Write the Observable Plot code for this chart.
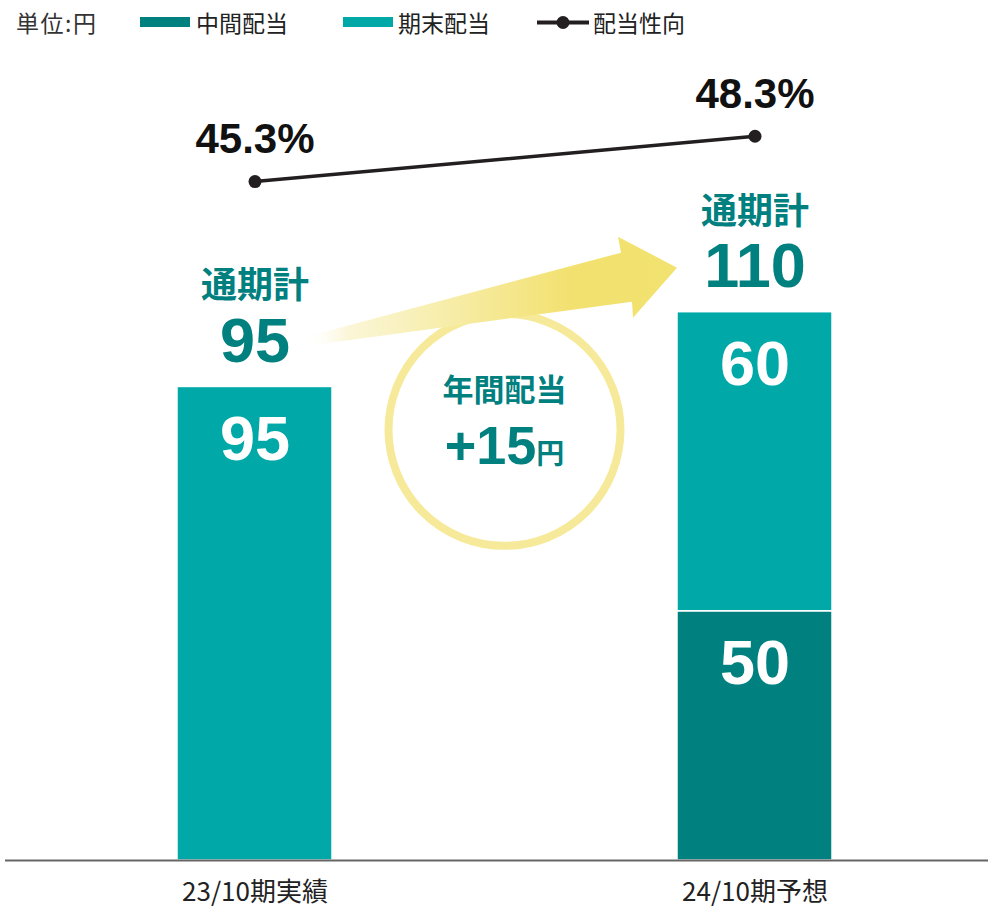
<!DOCTYPE html>
<html><head><meta charset="utf-8">
<script src="https://cdn.jsdelivr.net/npm/d3@7"></script>
<script src="https://cdn.jsdelivr.net/npm/@observablehq/plot@0.6"></script>
<style>
body{margin:0;background:#fff;font-family:"Noto Sans CJK JP","Noto Sans",sans-serif;}
#wrap{position:relative;width:988px;height:908px;overflow:hidden;}
#legend{position:relative;height:45px;width:988px;color:#222;}
#legend .t{position:absolute;top:5px;font-size:23px;line-height:34px;white-space:nowrap;}
#legend .sw{position:absolute;top:17px;width:50px;height:10px;}
#chart svg{display:block;}
</style></head><body>
<div id="wrap">
<div id="legend"></div>
<div id="chart"></div>
</div>
<script>
// ---- data ----
const periods = ["23/10期実績", "24/10期予想"];
const seriesNames = ["中間配当", "期末配当"];
const interimDividend = [null, 50];
const yearEndDividend = [95, 60];
const annualTotal = [95, 110];
const payoutRatio = [45.3, 48.3];
const totalLabel = "通期計";
const unitLabel = "単位:円";
const ratioName = "配当性向";
const increaseTitle = "年間配当";
const increaseValue = "+15";
const increaseUnit = "円";

// ---- style ----
const seriesColors = ["#00807f", "#00a9a8"];
const lineColor = "#231f20";
const yDomain = [0, 163.5];
const ratioAxisDomain = [0.4, 54.3]; // hidden secondary axis for payout ratio
const numFont = "'Liberation Sans', Arial, sans-serif";
const cjkFont = "'Noto Sans CJK JP', sans-serif";

// legend
const legend = document.getElementById("legend");
legend.innerHTML = `
 <span class="t" style="left:16px;color:#333;letter-spacing:1.5px">${unitLabel}</span>
 <span class="sw" style="left:140px;background:${seriesColors[0]}"></span>
 <span class="t" style="left:196px">${seriesNames[0]}</span>
 <span class="sw" style="left:343px;background:${seriesColors[1]}"></span>
 <span class="t" style="left:398px">${seriesNames[1]}</span>
 <svg style="position:absolute;left:536px;top:14px" width="54" height="16"><line x1="1" x2="53" y1="8.5" y2="8.5" stroke="${lineColor}" stroke-width="4"/><circle cx="27" cy="8.5" r="6.5" fill="${lineColor}"/></svg>
 <span class="t" style="left:593px">${ratioName}</span>`;

// tables
const rows = periods.flatMap((p, i) => [
  {period: p, series: seriesNames[0], value: interimDividend[i]},
  {period: p, series: seriesNames[1], value: yearEndDividend[i]}
]).filter(d => d.value != null);
const totals = periods.map((p, i) => ({period: p, total: annualTotal[i], ratio: payoutRatio[i]}));
const ratioToY = d3.scaleLinear(ratioAxisDomain, yDomain);

// decoration: circle + arrow between the two bars
function decoration(index, scales) {
  const x = scales.x, y = scales.y;
  const bw = x.bandwidth ? x.bandwidth() : 155;
  const c1 = x(periods[0]) + bw / 2, c2 = x(periods[1]) + bw / 2;
  const g = d3.create("svg:g");
  const defs = g.append("defs");
  const grad = defs.append("linearGradient").attr("id", "arrowGrad")
    .attr("gradientUnits", "userSpaceOnUse");
  const tailX = c1 + 48, tailY = y(annualTotal[0]) - 45;
  const tipX = x(periods[1]), tipY = y(annualTotal[1]) - 44;
  grad.attr("x1", tailX).attr("x2", tipX).attr("y1", 0).attr("y2", 0);
  grad.append("stop").attr("offset", "0").attr("stop-color", "#ffffff").attr("stop-opacity", 0);
  grad.append("stop").attr("offset", "0.12").attr("stop-color", "#fbf6d8");
  grad.append("stop").attr("offset", "0.72").attr("stop-color", "#f2e16f");
  grad.append("stop").attr("offset", "1").attr("stop-color", "#f2e26f");
  // circle
  const cx = (c1 + c2) / 2, cy = y(86.3);
  g.append("circle").attr("cx", cx).attr("cy", cy).attr("r", 116)
    .attr("fill", "none").attr("stroke", "#f6ea9a").attr("stroke-width", 8);
  // arrow polygon (relative to tail/tip)
  const pts = [
    [tailX - 3, tailY - 3],
    [tipX - 56, tipY - 15],
    [tipX - 59, tipY - 31],
    [tipX, tipY],
    [tipX - 44, tipY + 50],
    [tipX - 45, tipY + 34],
    [tailX, tailY + 5]
  ];
  g.append("path").attr("d", "M" + pts.map(p => p.join(",")).join("L") + "Z")
    .attr("fill", "url(#arrowGrad)");
  // texts inside circle
  g.append("text").attr("x", cx).attr("y", cy - 42).attr("text-anchor", "middle")
    .attr("dominant-baseline", "central")
    .attr("font-family", cjkFont).attr("font-weight", 700).attr("font-size", 31)
    .attr("fill", seriesColors[0]).text(increaseTitle);
  const t2 = g.append("text").attr("x", cx).attr("y", cy + 34).attr("text-anchor", "middle")
    .attr("fill", seriesColors[0]);
  t2.append("tspan").attr("font-family", numFont).attr("font-weight", 700).attr("font-size", 54).text(increaseValue);
  t2.append("tspan").attr("font-family", cjkFont).attr("font-weight", 700).attr("font-size", 28).text(increaseUnit);
  return g.node();
}

const chart = Plot.plot({
  width: 988,
  height: 863,
  marginTop: 0,
  marginBottom: 48,
  marginLeft: 5,
  marginRight: 0,
  style: {background: "white", color: "#222", overflow: "visible", fontFamily: cjkFont},
  x: {domain: periods, paddingInner: 0.691, paddingOuter: 0.3266, align: 0.523, axis: null},
  y: {domain: yDomain, axis: null},
  color: {domain: seriesNames, range: seriesColors},
  marks: [
    Plot.barY(rows, {x: "period", y: "value", fill: "series", order: seriesNames, stroke: "white", strokeWidth: 1.5}),
    Plot.text(rows, Plot.stackY2({x: "period", y: "value", z: "series", order: seriesNames,
      text: d => String(d.value), dy: 53, fill: "white", fontSize: 63, fontWeight: 700,
      fontFamily: numFont})),
    Plot.ruleY([0], {stroke: "#666", strokeWidth: 2}),
    Plot.axisX({tickSize: 0, tickPadding: 22, fontSize: 26, fill: "#222", fontFamily: cjkFont, label: null}),
    decoration,
    Plot.text(totals, {x: "period", y: "total", text: () => totalLabel, dy: -100,
      fontSize: 36, fontWeight: 700, fill: seriesColors[0], fontFamily: cjkFont}),
    Plot.text(totals, {x: "period", y: "total", text: d => String(d.total), dy: -45,
      fontSize: 63, fontWeight: 700, fill: seriesColors[0], fontFamily: numFont}),
    Plot.line(totals, {x: "period", y: d => ratioToY(d.ratio), stroke: lineColor, strokeWidth: 3.5}),
    Plot.dot(totals, {x: "period", y: d => ratioToY(d.ratio), r: 6.5, fill: lineColor}),
    Plot.text(totals, {x: "period", y: d => ratioToY(d.ratio), text: d => d.ratio.toFixed(1) + "%",
      dy: -42, fontSize: 42, fontWeight: 700, fill: "#111", fontFamily: numFont})
  ]
});
document.getElementById("chart").appendChild(chart);
</script>
</body></html>
